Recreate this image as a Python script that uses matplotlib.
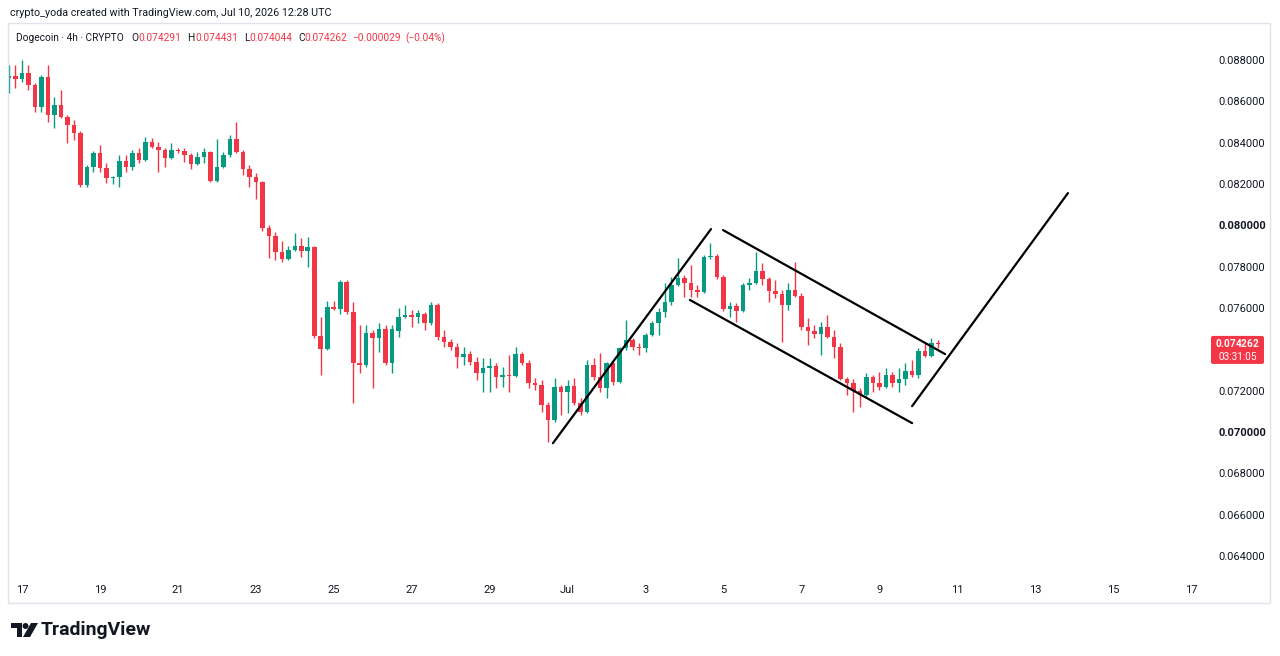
import numpy as np
import pandas as pd
import matplotlib
matplotlib.use("Agg")
import matplotlib.pyplot as plt
import matplotlib.dates as mdates
from matplotlib.patches import Rectangle, FancyBboxPatch, Polygon, Ellipse
from matplotlib.transforms import IdentityTransform

plt.rcParams['font.family'] = ['Roboto', 'DejaVu Sans']
plt.rcParams['mathtext.fontset'] = 'custom'
plt.rcParams['mathtext.rm'] = 'Roboto'
plt.rcParams['mathtext.bf'] = 'Roboto:bold'

W, H = 1280, 656
GREEN = "#089981"
RED = "#F23645"
TXT = "#131722"

# 4h candles, Dogecoin
opens = [0.08713, 0.08723, 0.08708, 0.08737, 0.08679, 0.08573, 0.08718, 0.08534, 0.08582, 0.08524,
         0.08485, 0.08447, 0.08195, 0.08282, 0.08350, 0.08277, 0.08229, 0.08234, 0.08311, 0.08282,
         0.08350, 0.08316, 0.08403, 0.08379, 0.08364, 0.08326, 0.08364, 0.08359, 0.08340, 0.08297,
         0.08331, 0.08355, 0.08214, 0.08282, 0.08340, 0.08418, 0.08355, 0.08272, 0.08234, 0.08210,
         0.07987, 0.07948, 0.07871, 0.07837, 0.07880, 0.07900, 0.07876, 0.07895, 0.07464, 0.07401,
         0.07605, 0.07595, 0.07726, 0.07580, 0.07334, 0.07324, 0.07479, 0.07455, 0.07498, 0.07334,
         0.07489, 0.07556, 0.07566, 0.07556, 0.07571, 0.07527, 0.07614, 0.07459, 0.07435, 0.07411,
         0.07363, 0.07377, 0.07338, 0.07285, 0.07309, 0.07319, 0.07266, 0.07275, 0.07273, 0.07377,
         0.07334, 0.07237, 0.07227, 0.07130, 0.07058, 0.07217, 0.07193, 0.07222, 0.07140, 0.07096,
         0.07324, 0.07266, 0.07212, 0.07334, 0.07242, 0.07406, 0.07445, 0.07411, 0.07406, 0.07469,
         0.07527, 0.07580, 0.07629, 0.07711, 0.07745, 0.07721, 0.07687, 0.07677, 0.07847, 0.07850,
         0.07750, 0.07595, 0.07610, 0.07585, 0.07711, 0.07721, 0.07779, 0.07740, 0.07682, 0.07667,
         0.07614, 0.07687, 0.07658, 0.07508, 0.07488, 0.07474, 0.07508, 0.07459, 0.07411, 0.07256,
         0.07237, 0.07198, 0.07179, 0.07266, 0.07237, 0.07217, 0.07275, 0.07237, 0.07256, 0.07295,
         0.07275, 0.07392, 0.07367, 0.074291]
highs = [0.08776, 0.08776, 0.08800, 0.08776, 0.08690, 0.08727, 0.08776, 0.08621, 0.08655, 0.08534,
         0.08510, 0.08457, 0.08292, 0.08360, 0.08389, 0.08301, 0.08239, 0.08340, 0.08340, 0.08364,
         0.08374, 0.08427, 0.08422, 0.08403, 0.08374, 0.08398, 0.08374, 0.08374, 0.08350, 0.08355,
         0.08374, 0.08360, 0.08418, 0.08355, 0.08437, 0.08500, 0.08364, 0.08292, 0.08253, 0.08214,
         0.08001, 0.07968, 0.07924, 0.07900, 0.07963, 0.07939, 0.07943, 0.07900, 0.07556, 0.07634,
         0.07634, 0.07735, 0.07735, 0.07629, 0.07517, 0.07517, 0.07493, 0.07527, 0.07517, 0.07517,
         0.07600, 0.07614, 0.07590, 0.07590, 0.07580, 0.07629, 0.07624, 0.07493, 0.07450, 0.07430,
         0.07411, 0.07392, 0.07363, 0.07358, 0.07358, 0.07334, 0.07314, 0.07372, 0.07411, 0.07387,
         0.07348, 0.07261, 0.07251, 0.07145, 0.07261, 0.07227, 0.07251, 0.07261, 0.07164, 0.07348,
         0.07358, 0.07382, 0.07338, 0.07338, 0.07411, 0.07542, 0.07455, 0.07430, 0.07479, 0.07537,
         0.07600, 0.07721, 0.07750, 0.07842, 0.07759, 0.07808, 0.07711, 0.07856, 0.07914, 0.07861,
         0.07759, 0.07629, 0.07624, 0.07721, 0.07745, 0.07871, 0.07818, 0.07750, 0.07735, 0.07687,
         0.07721, 0.07822, 0.07672, 0.07551, 0.07517, 0.07532, 0.07566, 0.07493, 0.07430, 0.07266,
         0.07256, 0.07212, 0.07285, 0.07275, 0.07290, 0.07309, 0.07290, 0.07309, 0.07334, 0.07348,
         0.07406, 0.07430, 0.07455, 0.074431]
lows = [0.08640, 0.08664, 0.08694, 0.08655, 0.08548, 0.08548, 0.08500, 0.08471, 0.08519, 0.08398,
        0.08413, 0.08185, 0.08185, 0.08258, 0.08258, 0.08205, 0.08200, 0.08185, 0.08258, 0.08268,
        0.08301, 0.08311, 0.08374, 0.08258, 0.08282, 0.08321, 0.08350, 0.08306, 0.08272, 0.08292,
        0.08301, 0.08210, 0.08210, 0.08277, 0.08331, 0.08350, 0.08243, 0.08185, 0.08127, 0.07972,
        0.07842, 0.07832, 0.07822, 0.07832, 0.07876, 0.07847, 0.07798, 0.07455, 0.07275, 0.07396,
        0.07590, 0.07571, 0.07571, 0.07140, 0.07285, 0.07314, 0.07212, 0.07387, 0.07324, 0.07285,
        0.07459, 0.07551, 0.07508, 0.07527, 0.07493, 0.07517, 0.07445, 0.07411, 0.07396, 0.07309,
        0.07324, 0.07324, 0.07251, 0.07193, 0.07193, 0.07212, 0.07217, 0.07193, 0.07266, 0.07324,
        0.07212, 0.07203, 0.07096, 0.06951, 0.07048, 0.07082, 0.07092, 0.07130, 0.07082, 0.07092,
        0.07251, 0.07193, 0.07164, 0.07227, 0.07237, 0.07396, 0.07396, 0.07372, 0.07387, 0.07464,
        0.07469, 0.07556, 0.07614, 0.07706, 0.07653, 0.07653, 0.07653, 0.07672, 0.07837, 0.07740,
        0.07585, 0.07556, 0.07532, 0.07580, 0.07687, 0.07716, 0.07711, 0.07629, 0.07648, 0.07435,
        0.07590, 0.07653, 0.07493, 0.07421, 0.07455, 0.07372, 0.07455, 0.07358, 0.07251, 0.07179,
        0.07096, 0.07121, 0.07169, 0.07193, 0.07203, 0.07212, 0.07217, 0.07193, 0.07227, 0.07266,
        0.07261, 0.07363, 0.07363, 0.074044]
closes = [0.08723, 0.08708, 0.08737, 0.08679, 0.08573, 0.08718, 0.08534, 0.08582, 0.08524, 0.08485,
          0.08447, 0.08195, 0.08282, 0.08350, 0.08277, 0.08229, 0.08234, 0.08311, 0.08282, 0.08350,
          0.08316, 0.08403, 0.08379, 0.08364, 0.08326, 0.08364, 0.08359, 0.08340, 0.08297, 0.08331,
          0.08355, 0.08214, 0.08282, 0.08340, 0.08418, 0.08355, 0.08272, 0.08234, 0.08210, 0.07987,
          0.07948, 0.07871, 0.07837, 0.07880, 0.07900, 0.07876, 0.07895, 0.07464, 0.07401, 0.07605,
          0.07595, 0.07726, 0.07580, 0.07334, 0.07324, 0.07479, 0.07455, 0.07498, 0.07334, 0.07498,
          0.07556, 0.07566, 0.07556, 0.07576, 0.07527, 0.07614, 0.07459, 0.07435, 0.07411, 0.07363,
          0.07377, 0.07338, 0.07285, 0.07309, 0.07319, 0.07266, 0.07275, 0.07273, 0.07377, 0.07334,
          0.07237, 0.07227, 0.07130, 0.07058, 0.07217, 0.07193, 0.07222, 0.07140, 0.07096, 0.07324,
          0.07266, 0.07212, 0.07334, 0.07242, 0.07406, 0.07445, 0.07411, 0.07406, 0.07469, 0.07527,
          0.07580, 0.07629, 0.07711, 0.07745, 0.07721, 0.07687, 0.07677, 0.07847, 0.07850, 0.07750,
          0.07595, 0.07610, 0.07585, 0.07711, 0.07721, 0.07779, 0.07740, 0.07682, 0.07667, 0.07614,
          0.07687, 0.07658, 0.07508, 0.07488, 0.07474, 0.07508, 0.07459, 0.07411, 0.07256, 0.07237,
          0.07198, 0.07179, 0.07266, 0.07237, 0.07217, 0.07275, 0.07237, 0.07256, 0.07295, 0.07275,
          0.07392, 0.07367, 0.07429, 0.074262]

times = pd.date_range("2026-06-16 16:00", periods=len(opens), freq="4h")

# hand drawn trend lines: (start time, start price, end time, end price)
trend_lines = [
    ("2026-06-30 15:00", 0.06946, "2026-07-04 16:20", 0.07982),
    ("2026-07-04 23:45", 0.07977, "2026-07-10 16:30", 0.07377),
    ("2026-07-04 03:20", 0.07639, "2026-07-09 20:10", 0.07043),
    ("2026-07-09 20:10", 0.07125, "2026-07-13 20:10", 0.08156),
]

price_ticks = np.arange(0.064, 0.0881, 0.002)
bold_ticks = [0.070, 0.080]
date_ticks = pd.date_range("2026-06-17", "2026-07-17", freq="2D")
last_timer = "03:31:05"

fig = plt.figure(figsize=(W / 100, H / 100), dpi=100)
fig.patch.set_facecolor("white")

ax = fig.add_axes([8 / W, 1 - 575 / H, (1205 - 8) / W, (575 - 23) / H])
ax.set_facecolor("white")

x = mdates.date2num(times)
o = np.array(opens)
hi = np.array(highs)
lo = np.array(lows)
c = np.array(closes)
cols = np.where(c >= o, GREEN, RED)

ax.vlines(x, lo, hi, colors=cols, linewidth=1, zorder=2)
body_bottom = np.minimum(o, c)
body_h = np.maximum(np.abs(c - o), 0.00004)
ax.bar(x, body_h, bottom=body_bottom, width=0.7 / 6, color=cols, linewidth=0, zorder=3)

for t0, p0, t1, p1 in trend_lines:
    ax.plot(mdates.date2num(pd.to_datetime([t0, t1])), [p0, p1],
            color="black", lw=1.6, solid_capstyle="round", zorder=4)

ax.set_xlim(mdates.date2num(pd.Timestamp("2026-06-16 15:23")),
            mdates.date2num(pd.Timestamp("2026-07-17 08:34")))
ax.set_ylim(0.063081, 0.08979)

ax.set_xticks(mdates.date2num(date_ticks))
ax.set_xticklabels(["Jul" if d.day == 1 else str(d.day) for d in date_ticks])
ax.tick_params(axis="x", length=0, pad=7, labelsize=8, labelcolor=TXT)

# the price tag hides the scale label that sits under it
ax.yaxis.tick_right()
ax.set_yticks(price_ticks)
ax.set_yticklabels(["" if abs(p - closes[-1]) < 0.0006 else f"{p:.6f}" for p in price_ticks])
ax.tick_params(axis="y", length=0, pad=9.5, labelsize=8, labelcolor=TXT)
for lab, p in zip(ax.get_yticklabels(), price_ticks):
    if any(abs(p - b) < 1e-9 for b in bold_ticks):
        lab.set_fontweight("bold")

for s in ax.spines.values():
    s.set_visible(False)

# outer frame
fig.add_artist(Rectangle((8 / W, 1 - 603 / H), (1270 - 8) / W, (603 - 23) / H,
                         transform=fig.transFigure, fill=False, edgecolor="#e0e3eb", lw=1))

# last price tag
fig.canvas.draw()
renderer = fig.canvas.get_renderer()
ty = ax.transData.transform((0, closes[-1]))[1]
tag = FancyBboxPatch((1211, ty - 20), 53, 28, boxstyle="round,pad=0,rounding_size=2",
                     transform=IdentityTransform(), facecolor=RED, edgecolor="none")
fig.add_artist(tag)
fig.text(1237.5, ty - 5.5, f"$\\mathbf{{{closes[-1]:.6f}}}$\n{last_timer}",
         transform=IdentityTransform(), color="white", fontsize=7.2,
         ha="center", va="center", linespacing=1.3)

# header lines
fig.text(10, H - 13, "crypto_yoda created with TradingView.com, Jul 10, 2026 12:28 UTC",
         transform=IdentityTransform(), color=TXT, fontsize=7.75, va="center")

chg = closes[-1] - opens[-1]
pieces = [("Dogecoin · 4h · CRYPTO", TXT, 8),
          ("O", TXT, 0), (f"{opens[-1]:.6f}", RED, 6),
          ("H", TXT, 0), (f"{highs[-1]:.6f}", RED, 6),
          ("L", TXT, 0), (f"{lows[-1]:.6f}", RED, 6),
          ("C", TXT, 0), (f"{closes[-1]:.6f}", RED, 5),
          (f"{chg:.6f}".replace("-", "\u2212"), RED, 4),
          (f"({chg / opens[-1] * 100:.2f}%)".replace("-", "\u2212"), RED, 0)]
cx = 16
for txt, col, gap in pieces:
    t = fig.text(cx, H - 38, txt, transform=IdentityTransform(), color=col,
                 fontsize=7.3, va="center")
    cx = t.get_window_extent(renderer).x1 + gap

# TradingView logo
def fp(px, py):
    return px / W, 1 - py / H

fig.add_artist(Polygon([fp(11, 623), fp(22, 623), fp(22, 637), fp(17, 637), fp(17, 628), fp(11, 628)],
                       closed=True, transform=fig.transFigure, facecolor=TXT, edgecolor="none"))
fig.add_artist(Ellipse(fp(25.5, 626), 6 / W, 6 / H, transform=fig.transFigure,
                       facecolor=TXT, edgecolor="none"))
fig.add_artist(Polygon([fp(31, 623), fp(38, 623), fp(30, 637), fp(23, 637)],
                       closed=True, transform=fig.transFigure, facecolor=TXT, edgecolor="none"))
fig.text(41, H - 630, "TradingView", transform=IdentityTransform(), color=TXT,
         fontsize=14, fontweight="bold", va="center")

fig.savefig("out.png", dpi=100, facecolor="white")
